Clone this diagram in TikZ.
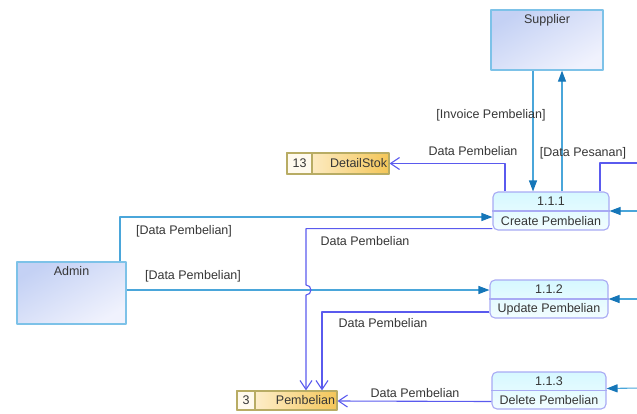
\documentclass[tikz,border=0pt]{standalone}
\usepackage{fontspec}
\setmainfont{Liberation Sans}
\usetikzlibrary{arrows.meta,calc}

\definecolor{flowblue}{HTML}{4AA6DA}
\definecolor{tipblue}{HTML}{1576B8}
\definecolor{flowviolet}{HTML}{5A5AEE}
\definecolor{entityline}{HTML}{7DC2E8}
\definecolor{entitytop}{HTML}{C4D1F4}
\definecolor{entitybottom}{HTML}{F0F2FD}
\definecolor{procline}{HTML}{A8AAF4}
\definecolor{proctop}{HTML}{D6F8FF}
\definecolor{procbottom}{HTML}{F2FDFF}
\definecolor{storeline}{HTML}{B8AC64}
\definecolor{storeleft}{HTML}{FFF6E2}
\definecolor{storeright}{HTML}{F4C658}
\definecolor{labelgray}{HTML}{363636}

\begin{document}
\begin{tikzpicture}[x=1pt,y=-1pt,line join=round,
    every node/.style={font=\fontsize{12.5}{14}\selectfont,text=labelgray},
    entity/.style={draw=entityline,line width=1.2pt,top color=entitytop,bottom color=entitybottom,shading angle=30},
    process/.style={draw=procline,line width=1.1pt,rounded corners=5pt,top color=proctop,bottom color=procbottom},
    store/.style={draw=storeline,line width=1.1pt,left color=storeleft,right color=storeright},
    storeid/.style={draw=storeline,line width=1.1pt,fill=storeleft!60,minimum height=21pt},
    inflow/.style={draw=flowblue,line width=1.1pt,-{Triangle[length=11pt,width=8pt,color=tipblue]}},
    outflow/.style={draw=flowviolet,line width=1.1pt,-{Straight Barb[length=9pt,width=12pt]}}]
  \useasboundingbox (0,0) rectangle (637,413);

  % external entities
  \node[entity,minimum width=112pt,minimum height=60pt] (supplier) at (547,40) {};
  \node[anchor=north] (suppliername) at ([yshift=-2pt]supplier.north) {Supplier};
  \node[entity,minimum width=109pt,minimum height=62pt] (admin) at (71.5,293) {};
  \node[anchor=north] (adminname) at ([yshift=-2pt]admin.north) {Admin};

  % processes
  \node[process,minimum width=116pt,minimum height=38pt] (p111) at (551,211) {};
  \node[process,minimum width=118pt,minimum height=38pt] (p112) at (549,299) {};
  \node[process,minimum width=114pt,minimum height=37pt] (p113) at (549,390.5) {};
  \foreach \p/\num/\name in {p111/1.1.1/Create Pembelian,p112/1.1.2/Update Pembelian,p113/1.1.3/Delete Pembelian}{
    \draw[procline,line width=1.1pt] (\p.west) -- (\p.east);
    \node (\p num) at ($(\p.north)!.5!(\p.center)$) {\num};
    \node (\p name) at ($(\p.south)!.5!(\p.center)$) {\name};
  }

  % data stores
  \node[store,minimum width=102pt,minimum height=21pt] (detailstok) at (338,163.5) {};
  \node[storeid,anchor=west,minimum width=25pt] (detailstokid) at (detailstok.west) {13};
  \node[anchor=east] (detailstokname) at ([xshift=1pt]detailstok.east) {DetailStok};
  \node[store,minimum width=100pt,minimum height=19pt] (pembelian) at (287,400.5) {};
  \node[storeid,anchor=west,minimum width=18pt,minimum height=19pt] (pembelianid) at (pembelian.west) {3};
  \node[anchor=east] (pembelianname) at ([xshift=1pt]pembelian.east) {Pembelian};

  % loose ends at the right border
  \coordinate (right111) at (640,211);
  \coordinate (right112) at (640,299);
  \coordinate (right113) at (640,388);
  \coordinate (pesanan) at (640,163);
  \coordinate (hop) at (306,290);

  % flows
  \draw[inflow] ([xshift=-14pt]supplier.south) -- ([xshift=-18pt]p111.north);
  \draw[inflow] ([xshift=11pt]p111.north) -- ([xshift=15pt]supplier.south);
  \draw[draw=flowviolet,line width=1.1pt] ([xshift=49pt]p111.north) |- (pesanan);
  \draw[inflow] (right111) -- (p111.east);
  \draw[outflow] ([xshift=-46pt]p111.north) |- (detailstok.east);
  \draw[inflow] ([xshift=48.5pt]admin.north) |- ([yshift=-6pt]p111.west);
  \draw[inflow] ([yshift=3pt]admin.east) -- ([yshift=9pt]p112.west);
  \draw[outflow] ([yshift=2pt]p111.south west) -| ([yshift=5pt]hop) arc(-90:90:5) -- ([xshift=19pt]pembelian.north);
  \draw[outflow] ([yshift=-13pt]p112.west) -| ([xshift=35pt]pembelian.north);
  \draw[inflow] (right112) -- (p112.east);
  \draw[inflow] (right113) -- ([yshift=2pt]p113.east);
  \draw[outflow] ([yshift=-11pt]p113.west) -- ([yshift=-0.5pt]pembelian.east);

  % flow labels
  \node (lblinvoice) at (491,115) {[Invoice Pembelian]};
  \node (lblpesanan) at (583,153) {[Data Pesanan]};
  \node (lbldetail) at (473,151) {Data Pembelian};
  \node (lbladmin) at (184,231) {[Data Pembelian]};
  \node (lbladminupd) at (193,276) {[Data Pembelian]};
  \node (lblcreate) at (365,241) {Data Pembelian};
  \node (lblupdate) at (383,323) {Data Pembelian};
  \node (lbldelete) at (415,393) {Data Pembelian};
\end{tikzpicture}
\end{document}
